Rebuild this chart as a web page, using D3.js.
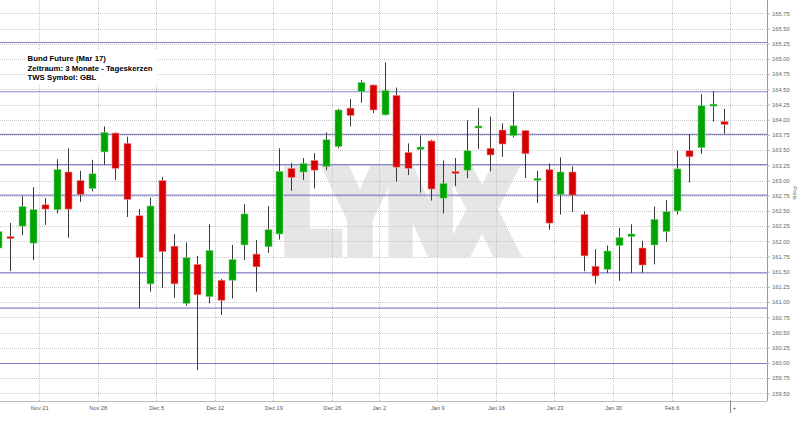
<!DOCTYPE html>
<html><head><meta charset="utf-8">
<script src="https://cdn.jsdelivr.net/npm/d3@7"></script>
<style>body{margin:0;background:#fff}svg{display:block}</style>
</head><body>
<svg id="c" width="800" height="421"></svg>
<script>
// ---- data ----
const days = ["2016-11-15","2016-11-16","2016-11-17","2016-11-18",
"2016-11-21","2016-11-22","2016-11-23","2016-11-24","2016-11-25",
"2016-11-28","2016-11-29","2016-11-30","2016-12-01","2016-12-02",
"2016-12-05","2016-12-06","2016-12-07","2016-12-08","2016-12-09",
"2016-12-12","2016-12-13","2016-12-14","2016-12-15","2016-12-16",
"2016-12-19","2016-12-20","2016-12-21","2016-12-22","2016-12-23",
"2016-12-27","2016-12-28","2016-12-29","2016-12-30",
"2017-01-02","2017-01-03","2017-01-04","2017-01-05","2017-01-06",
"2017-01-09","2017-01-10","2017-01-11","2017-01-12","2017-01-13",
"2017-01-16","2017-01-17","2017-01-18","2017-01-19","2017-01-20",
"2017-01-23","2017-01-24","2017-01-25","2017-01-26","2017-01-27",
"2017-01-30","2017-01-31","2017-02-01","2017-02-02","2017-02-03",
"2017-02-06","2017-02-07","2017-02-08","2017-02-09","2017-02-10"];
const open  = [161.89,162.07,162.25,161.97, 162.60,162.52,163.14,163.00,162.87, 163.47,163.78,163.61,162.42,161.30,
 163.00,161.92,160.98,161.62,161.09, 161.36,161.36,161.94,161.79,161.91, 162.12,163.20,163.14,163.33,163.23,
 163.56,164.19,164.46,164.57, 164.08,164.40,163.46,163.51,163.65, 162.71,163.14,163.17,163.87,163.53,
 163.83,163.74,163.82,163.01,163.18, 162.77,163.14,162.44,161.59,161.54, 161.93,162.08,161.89,161.94,162.16,
 162.50,163.49,163.54,164.23,163.97];
const high  = [162.22,162.30,162.75,162.89, 162.71,163.35,163.53,163.16,163.34, 163.89,163.79,163.72,162.53,162.72,
 163.06,162.12,161.98,161.76,162.28, 161.38,161.94,162.61,162.02,162.58, 163.53,163.29,163.37,163.45,163.79,
 164.18,164.34,164.65,164.58, 164.94,164.53,163.61,163.74,163.67, 163.33,163.37,163.99,164.19,164.05,
 163.94,164.46,163.83,163.16,163.28, 163.38,163.23,162.49,161.87,161.93, 162.22,162.28,162.01,162.57,162.68,
 163.49,163.76,164.42,164.47,164.18];
const low   = [161.86,161.51,162.10,161.69, 162.27,162.46,162.06,162.65,162.82, 163.26,163.01,162.40,160.90,161.17,
 161.23,161.07,160.94,159.88,160.98, 160.79,161.06,161.69,161.17,161.81, 162.03,162.83,163.01,162.87,163.17,
 163.53,163.89,164.28,164.11, 164.07,162.98,163.09,162.80,162.67, 162.46,162.91,163.04,163.52,163.15,
 163.39,163.71,163.04,162.63,162.19, 162.44,162.48,161.51,161.30,161.48, 161.35,161.48,161.48,161.62,161.99,
 162.44,162.97,163.44,163.97,163.77];
const close = [162.16,162.05,162.57,162.52, 162.53,163.18,162.53,162.77,163.11, 163.79,163.20,162.69,161.73,162.58,
 161.83,161.30,161.73,161.12,161.85, 161.03,161.70,162.45,161.58,162.19, 163.15,163.05,163.28,163.17,163.67,
 164.16,164.07,164.61,164.16, 164.48,163.22,163.20,163.55,162.86, 162.95,163.12,163.49,163.89,163.42,
 163.60,163.90,163.44,163.03,162.30, 163.14,162.76,161.76,161.43,161.84, 162.06,162.12,161.61,162.36,162.49,
 163.19,163.39,164.23,164.25,163.92];
const priceTicks = [159.50,159.75,160.00,160.25,160.50,160.75,161.00,161.25,161.50,161.75,162.00,162.25,162.50,
 162.75,163.00,163.25,163.50,163.75,164.00,164.25,164.50,164.75,165.00,165.25,165.50,165.75];
const levels = [165.27,164.46,163.76,163.26,162.76,161.48,160.90,159.99];
const weekStarts = ["2016-11-21","2016-11-28","2016-12-05","2016-12-12","2016-12-19","2016-12-26",
 "2017-01-02","2017-01-09","2017-01-16","2017-01-23","2017-01-30","2017-02-06","2017-02-13"];
const weekLabels = ["Nov 21","Nov 28","Dec 5","Dec 12","Dec 19","Dec 26","Jan 2","Jan 9","Jan 16","Jan 23","Jan 30","Feb 6","+"];
const titleLines = ["Bund Future (Mar 17)","Zeitraum: 3 Monate - Tageskerzen","TWS Symbol: GBL"];
const yTitle = "Preis";
const watermark = "LYNX";

// ---- layout ----
const plotR = 767, plotB = 401;
const svg = d3.select("#c");
const x = d3.scaleLinear().domain([4, 62]).range([45, 724.3]);
const y = d3.scaleLinear().domain([159.5, 165.75]).range([393.3, 13.3]);

const parse = d3.timeParse("%Y-%m-%d");
const dayDates = days.map(parse);
const weekPos = weekStarts.map(s => {
  const d = parse(s);
  let i = dayDates.findIndex(t => t >= d);
  if (i < 0) i = dayDates.length;
  return i - 0.5;
});

const plot = svg.append("g");
svg.append("clipPath").attr("id","clip").append("rect")
  .attr("x",0).attr("y",0).attr("width",plotR).attr("height",plotB);

// watermark
plot.append("text")
  .attr("transform","translate(398,249) scale(0.8,1)")
  .attr("text-anchor","middle")
  .style("font-family","'Liberation Sans', Arial, sans-serif")
  .style("font-weight","bold").style("font-size","110px")
  .attr("fill","#e6e6e6").attr("stroke","#e6e6e6").attr("stroke-width",16)
  .attr("stroke-linejoin","miter")
  .text(watermark);

// grid
const grid = plot.append("g").attr("stroke","#c8c8c8").attr("stroke-dasharray","1,1").attr("stroke-width",1);
grid.selectAll("line.h").data(priceTicks).join("line")
  .attr("x1",0).attr("x2",plotR).attr("y1",d=>Math.round(y(d))+0.5).attr("y2",d=>Math.round(y(d))+0.5);
grid.selectAll("line.v").data(weekPos).join("line")
  .attr("y1",0).attr("y2",plotB).attr("x1",d=>Math.round(x(d))+0.5).attr("x2",d=>Math.round(x(d))+0.5);

// title box
plot.append("rect").attr("x",26).attr("y",49).attr("width",131).attr("height",35).attr("fill","#fff");
plot.append("g").selectAll("text").data(titleLines).join("text")
  .attr("x",27.5).attr("y",(d,i)=>61 + i*9.7)
  .style("font-family","'Liberation Sans', Arial, sans-serif")
  .style("font-weight","bold").style("font-size","7.8px").attr("fill","#000")
  .text(d=>d);

// levels
plot.append("g").selectAll("line").data(levels).join("line")
  .attr("x1",0).attr("x2",plotR)
  .attr("y1",d=>y(d)).attr("y2",d=>y(d))
  .attr("stroke","#7070c4").attr("stroke-width",1.2).attr("stroke-opacity",0.85);

// candles
const candles = plot.append("g").attr("clip-path","url(#clip)")
  .selectAll("g").data(days.map((d,i)=>i)).join("g");
candles.append("line")
  .attr("x1",i=>Math.round(x(i))+0.5).attr("x2",i=>Math.round(x(i))+0.5)
  .attr("y1",i=>y(high[i])).attr("y2",i=>y(low[i]))
  .attr("stroke","#3a3a3a").attr("stroke-width",1);
candles.append("rect")
  .attr("x",i=>Math.round(x(i))-3).attr("width",7)
  .attr("y",i=>{const t=y(Math.max(open[i],close[i])), b=y(Math.min(open[i],close[i])); return (b-t)<2 ? (t+b)/2-1 : t;})
  .attr("height",i=>Math.max(2, y(Math.min(open[i],close[i])) - y(Math.max(open[i],close[i]))))
  .attr("fill",i=>close[i]>=open[i] ? "#00a400" : "#d60000")
  .attr("stroke",i=>close[i]>=open[i] ? "#7ccf7c" : "#ee8c8c").attr("stroke-width",0.6);

// right axis
const yAxis = svg.append("g").attr("transform",`translate(${plotR},0)`)
  .call(d3.axisRight(y).tickValues(priceTicks).tickFormat(d3.format(".2f")).tickSize(3).tickPadding(2));
yAxis.select(".domain").attr("stroke","#999").attr("d",`M0.5,0V${plotB}`);
yAxis.selectAll(".tick line").attr("stroke","#bbb");
yAxis.selectAll(".tick text").attr("fill","#666")
  .style("font-family","'Liberation Sans', Arial, sans-serif").style("font-size","5.8px");

svg.append("text").attr("transform","translate(793,193) rotate(90)")
  .attr("text-anchor","middle")
  .style("font-family","'Liberation Sans', Arial, sans-serif").style("font-size","6px")
  .attr("fill","#666").text(yTitle);

// bottom axis
const xAxis = svg.append("g").attr("transform",`translate(0,${plotB})`)
  .call(d3.axisBottom(x).tickValues(weekPos).tickFormat((d,i)=>weekLabels[i]).tickSize(0).tickPadding(5));
xAxis.select(".domain").attr("stroke","#bbb").attr("d",`M0,0.5H${plotR}`);
xAxis.selectAll(".tick text").attr("fill","#555")
  .style("font-family","'Liberation Sans', Arial, sans-serif").style("font-size","5.6px")
  .attr("text-anchor",(d,i)=> i===weekLabels.length-1 ? "start" : "middle")
  .attr("dx",(d,i)=> i===weekLabels.length-1 ? 2 : 0);
const lastPos = weekPos[weekPos.length-1];
svg.append("line").attr("x1",Math.round(x(lastPos))+0.5).attr("x2",Math.round(x(lastPos))+0.5)
  .attr("y1",plotB).attr("y2",plotB+12).attr("stroke","#888");
</script>
</body></html>
